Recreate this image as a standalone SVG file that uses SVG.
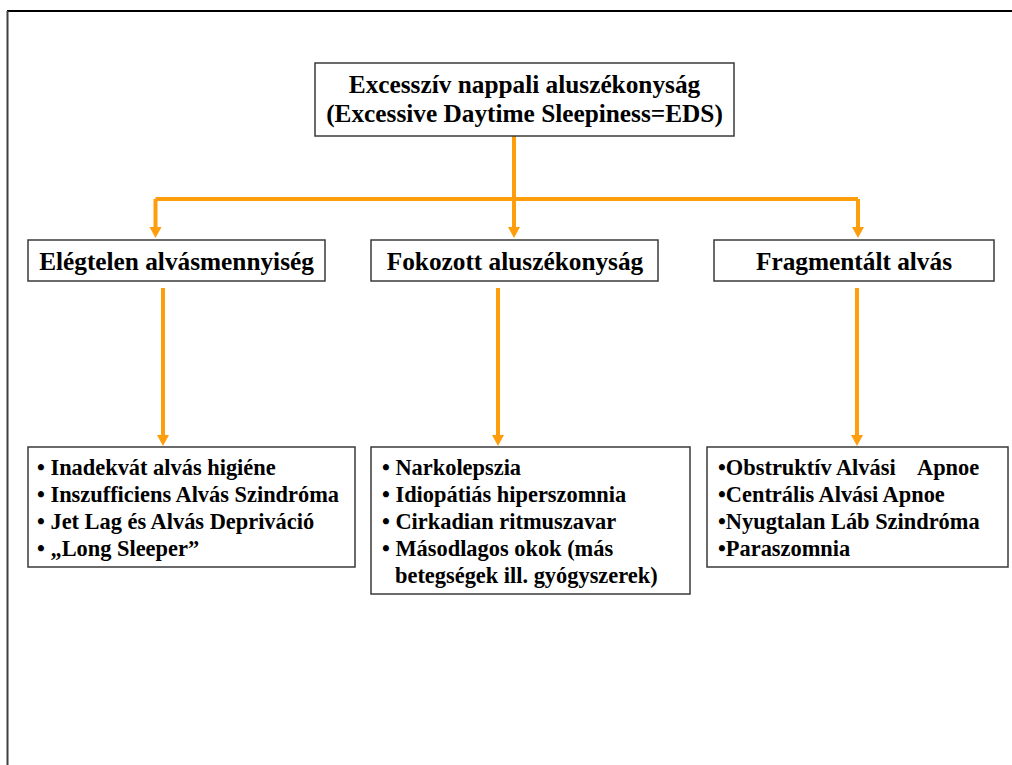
<svg xmlns="http://www.w3.org/2000/svg" width="1012" height="765" viewBox="0 0 1012 765">
<style>
.box{fill:#fff;stroke:#3a3a3a;stroke-width:1.5}
.t{font-family:'Liberation Serif','Times New Roman',serif;font-weight:700;fill:#000;white-space:pre}
.h{font-size:25.3px;text-anchor:middle}
.l{font-size:22.4px}
.con{fill:none;stroke:#FF9E0D;stroke-width:4}
.ah{fill:#FF9E0D}
</style>
<rect x="0" y="0" width="1012" height="765" fill="#fff"/>
<line x1="7" y1="11" x2="1012" y2="11" stroke="#000" stroke-width="2"/>
<line x1="7.5" y1="11" x2="7.5" y2="765" stroke="#404040" stroke-width="2"/>
<g id="connectors">
<path class="con" d="M514,136 V199"/>
<path class="con" d="M155.5,199 H858"/>
<path class="con" d="M155.5,199 V228"/>
<path class="con" d="M514,199 V228"/>
<path class="con" d="M858,199 V228"/>
<polygon class="ah" points="149.5,227 161.5,227 155.5,238"/>
<polygon class="ah" points="508,227 520,227 514,238"/>
<polygon class="ah" points="852,227 864,227 858,238"/>
<path class="con" d="M163,288 V436"/>
<path class="con" d="M498,288 V436"/>
<path class="con" d="M857,288 V436"/>
<polygon class="ah" points="157,435 169,435 163,446"/>
<polygon class="ah" points="492,435 504,435 498,446"/>
<polygon class="ah" points="851,435 863,435 857,446"/>
</g>
<g id="eds">
<rect class="box" x="315" y="63" width="419" height="73"/>
<text class="t h" x="524.5" y="93">Excesszív nappali aluszékonyság</text>
<text class="t h" x="524.5" y="122">(Excessive Daytime Sleepiness=EDS)</text>
</g>
<g id="elegtelen">
<rect class="box" x="28" y="240" width="297" height="41"/>
<text class="t h" x="176.5" y="270">Elégtelen alvásmennyiség</text>
</g>
<g id="fokozott">
<rect class="box" x="371" y="240" width="287" height="41"/>
<text class="t h" x="515" y="270">Fokozott aluszékonyság</text>
</g>
<g id="fragmentalt">
<rect class="box" x="714" y="240" width="280" height="41"/>
<text class="t h" x="854" y="270">Fragmentált alvás</text>
</g>
<g id="list1">
<rect class="box" x="28" y="447" width="327" height="120"/>
<text class="t l" x="37" y="475">• Inadekvát alvás higiéne</text>
<text class="t l" x="37" y="502">• Inszufficiens Alvás Szindróma</text>
<text class="t l" x="37" y="529">• Jet Lag és Alvás Depriváció</text>
<text class="t l" x="37" y="556">• „Long Sleeper”</text>
</g>
<g id="list2">
<rect class="box" x="371" y="447" width="319" height="147"/>
<text class="t l" x="382" y="475">• Narkolepszia</text>
<text class="t l" x="382" y="502">• Idiopátiás hiperszomnia</text>
<text class="t l" x="382" y="529">• Cirkadian ritmuszavar</text>
<text class="t l" x="382" y="556">• Másodlagos okok (más</text>
<text class="t l" x="395" y="583">betegségek ill. gyógyszerek)</text>
</g>
<g id="list3">
<rect class="box" x="707" y="447" width="301" height="120"/>
<text class="t l" x="718" y="475">•Obstruktív Alvási <tspan x="917">Apnoe</tspan></text>
<text class="t l" x="718" y="502">•Centrális Alvási Apnoe</text>
<text class="t l" x="718" y="529">•Nyugtalan Láb Szindróma</text>
<text class="t l" x="718" y="556">•Paraszomnia</text>
</g>
</svg>
